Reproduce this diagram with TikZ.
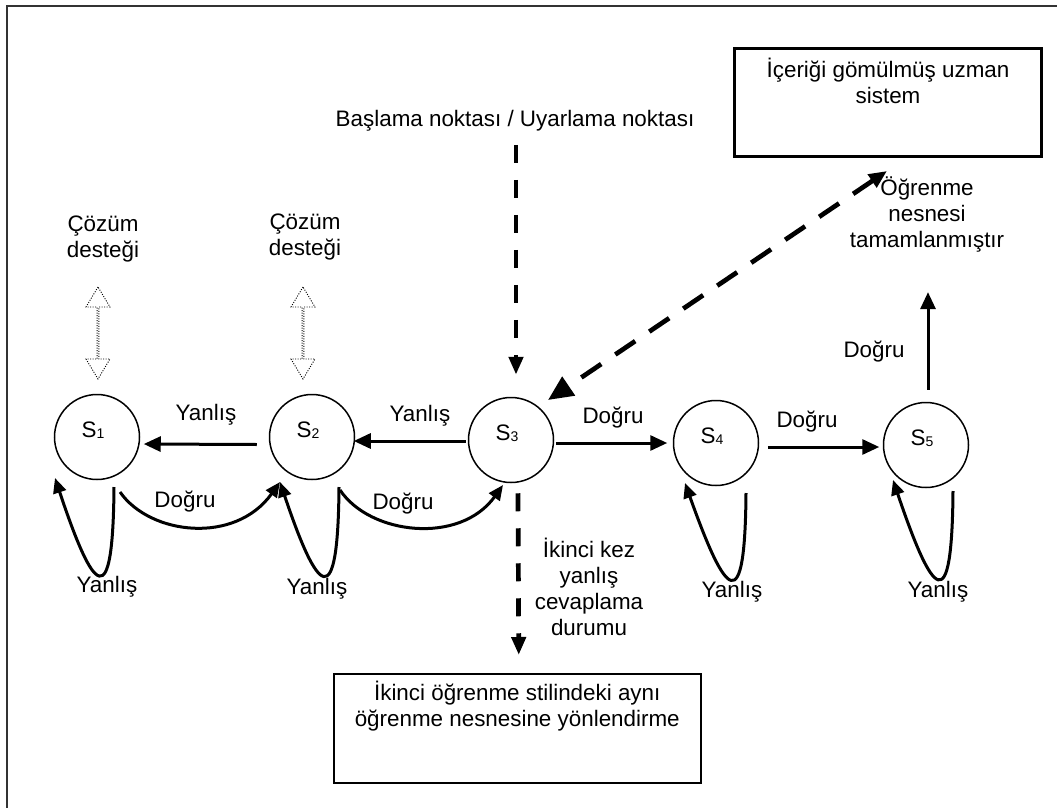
\documentclass[tikz,border=0pt]{standalone}
\usepackage{fontspec}
\setmainfont{Liberation Sans}
\usetikzlibrary{arrows.meta,calc,shapes.arrows}
% strut that fixes the height of the first line of multi-line labels
\newcommand\fstrut{\rule{0pt}{22pt}}
% small lowered index for the state names
\newcommand\idx[1]{\raisebox{-1.5pt}{\fontsize{14}{14}\selectfont #1}}

\begin{document}
\begin{tikzpicture}[x=1pt,y=-1pt,
  every node/.style={font=\fontsize{22.4}{26}\selectfont, inner sep=0pt},
  lbl/.style={anchor=base},
  blk/.style={anchor=north, align=center},
  state/.style={circle, draw, line width=1.5pt, minimum size=85pt,
    text height=16pt, text depth=16pt},
  solidarr/.style={line width=3pt, -{Triangle[length=17pt,width=15pt]}},
  bendarr/.style={line width=3pt, -{Triangle[length=15pt,width=13pt]}},
  dasharr/.style={line width=4.7pt, dash pattern=on 18pt off 17pt,
    -{Triangle[length=18pt,width=14pt]}},
  helparrow/.style={double arrow, draw, dash pattern=on 1pt off 1.5pt,
    line width=0.9pt, rotate=90, minimum height=92pt, minimum width=24pt,
    double arrow head extend=5.5pt, double arrow tip angle=62},
  panel/.style={draw, anchor=north west}
]
\useasboundingbox (0,0) rectangle (1057,808);
\draw[line width=2pt, black!80] (7,808) -- (7,6) -- (1057,6);

% states
\node[state] (s1) at (97,437)  {\kern-8pt S\idx{1}};
\node[state] (s2) at (312,437) {\kern-8pt S\idx{2}};
\node[state] (s3) at (511,440) {\kern-8pt S\idx{3}};
\node[state] (s4) at (716,443) {\kern-8pt S\idx{4}};
\node[state] (s5) at (926,445) {\kern-8pt S\idx{5}};

% boxes
\node[panel, line width=3pt, minimum width=307pt, minimum height=108pt,
  label={[blk, yshift=-8pt]north:{\fstrut İçeriği gömülmüş uzman\\sistem}}]
  (expert) at (733,47) {};
\node[panel, line width=1.5pt, minimum width=367pt, minimum height=109pt,
  label={[blk, yshift=-5pt]north:{\fstrut İkinci öğrenme stilindeki aynı\\öğrenme nesnesine yönlendirme}}]
  (target) at (333,673) {};

% free labels
\node[lbl] (start) at (515,126) {Başlama noktası / Uyarlama noktası};
\node[blk] (help1) at (103,209.7) {\fstrut Çözüm\\desteği};
\node[blk] (help2) at (305,207) {\fstrut Çözüm\\desteği};
\node[blk] (done) at (927,173) {\fstrut Öğrenme\\nesnesi\\tamamlanmıştır};
\node[blk] (second) at (589,535) {\fstrut İkinci kez\\yanlış\\cevaplama\\durumu};

% solution support arrows
\node[helparrow] (ha1) at (98,333) {};
\node[helparrow] (ha2) at (303,333) {};

% straight transitions
\draw[solidarr] ($(s2.west)+(-12,7.5)$) -- ($(s1.east)+(3.5,7)$);
\draw[solidarr] ($(s3.west)+(-2,1)$) -- ($(s2.east)+(-1.5,4)$);
\draw[solidarr] ($(s3.east)+(1.5,3)$) -- ($(s4.west)+(-5.5,0)$);
\draw[solidarr] ($(s4.east)+(8.5,4)$) -- ($(s5.west)+(-3.5,2)$);
\draw[solidarr] ($(s5.north)+(2,-12)$) -- ($(done.south)+(1,40)$);
\node[lbl] (w21) at (206,420) {Yanlış};
\node[lbl] (w32) at (420,421) {Yanlış};
\node[lbl] (r34) at (613,423) {Doğru};
\node[lbl] (r45) at (807,427) {Doğru};
\node[lbl] (r5) at (874,357) {Doğru};

% curved transitions
\draw[bendarr] ($(s1)+(23,55)$) .. controls ($(s1)+(53,98)$) and ($(s2)+(-77,108)$) .. ($(s2)+(-32,45)$);
\draw[bendarr] ($(s2)+(28,53)$) .. controls ($(s2)+(58,98)$) and ($(s3)+(-51,105)$) .. ($(s3)+(-8,45)$);
\node[lbl] (r12) at (185,507) {Doğru};
\node[lbl] (r23) at (403,509) {Doğru};

% self loops
\draw[bendarr] ($(s1)+(17,50)$) .. controls ($(s1)+(16,178)$) and ($(s1)+(-3,158)$) .. ($(s1)+(-42,41)$);
\draw[bendarr] ($(s2)+(27,50)$) .. controls ($(s2)+(26,178)$) and ($(s2)+(6,158)$) .. ($(s2)+(-32,45)$);
\draw[bendarr] ($(s4)+(30,50)$) .. controls ($(s4)+(29,177)$) and ($(s4)+(10,155)$) .. ($(s4)+(-31,40)$);
\draw[bendarr] ($(s5)+(27,46)$) .. controls ($(s5)+(26,175)$) and ($(s5)+(7,153)$) .. ($(s5)+(-33,35)$);
\node[lbl] (l1) at (107,592) {Yanlış};
\node[lbl] (l2) at (317,594) {Yanlış};
\node[lbl] (l4) at (732,597) {Yanlış};
\node[lbl] (l5) at (938,597) {Yanlış};

% dashed connections
\draw[dasharr] ($(start.south)+(1,14)$) -- ($(s3.north)+(5,-22)$);
\draw[dasharr] ($(s3.south)+(7,10)$) -- ($(target.north)+(1.5,-18)$);
\draw[line width=4.7pt, dash pattern=on 24pt off 17pt,
  {Triangle[length=18pt,width=15pt]}-{Triangle[length=25pt,width=22pt]}]
  ($(expert.south)+(-1,13)$) -- ($(s3)+(37,-40)$);
\end{tikzpicture}
\end{document}
